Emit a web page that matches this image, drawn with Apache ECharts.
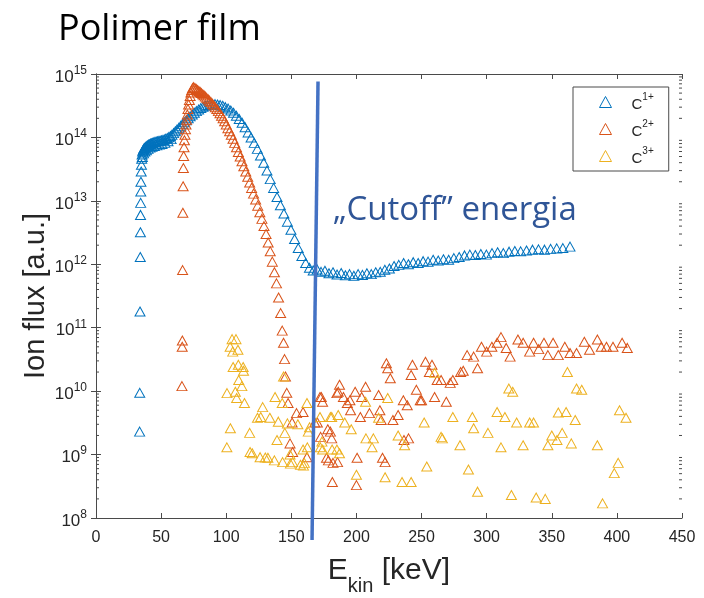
<!DOCTYPE html>
<html><head><meta charset="utf-8">
<script src="https://cdn.jsdelivr.net/npm/echarts@6/dist/echarts.min.js"></script>
<style>html,body{margin:0;padding:0;background:#fff}#c{width:704px;height:598px}</style>
</head><body><div id="c"></div>
<script>
// ---------- data ----------
const seriesNames = ['C1+', 'C2+', 'C3+'];
const xTickValues = [0, 50, 100, 150, 200, 250, 300, 350, 400, 450];
const yDecadeExponents = [8, 9, 10, 11, 12, 13, 14, 15];

// C1+ : [E_kin (keV), ion flux (a.u.)]
const c1Points = [
[33.5,2.3e9],[33.6,9.4e9],[33.8,1.8e11],[34.0,1.3e12],[34.1,3.2e12],[34.2,6.0e12],[34.3,9.3e12],[34.4,1.4e13],
[34.5,2.0e13],[34.7,2.9e13],[34.9,3.7e13],[35.1,4.6e13],[35.4,5.4e13],[35.8,6.0e13],[36.2,6.3e13],[36.7,6.6e13],
[37.2,6.8e13],[37.8,7.0e13],[38.4,7.2e13],[39.0,7.3e13],[39.7,7.5e13],[40.4,7.7e13],[41.1,7.8e13],[41.9,8.0e13],
[42.7,8.1e13],[43.5,8.2e13],[44.4,8.4e13],[45.3,8.5e13],[46.2,8.6e13],[47.2,8.7e13],[48.2,8.8e13],[49.2,8.9e13],
[50.2,9.0e13],[51.3,9.1e13],[52.4,9.3e13],[53.5,9.5e13],[54.7,9.8e13],[55.9,1.01e14],[57.1,1.05e14],[58.3,1.1e14],
[59.6,1.17e14],[60.9,1.25e14],[62.2,1.33e14],[63.6,1.42e14],[65.0,1.52e14],[66.4,1.62e14],[67.8,1.74e14],[69.3,1.87e14],
[70.8,2.0e14],[72.3,2.15e14],[73.9,2.3e14],[75.5,2.45e14],[77.1,2.6e14],[78.8,2.75e14],[80.5,2.9e14],[82.2,3.05e14],
[84.0,3.15e14],[85.8,3.25e14],[87.6,3.3e14],[89.5,3.35e14],[91.4,3.35e14],[93.3,3.3e14],[95.3,3.25e14],[97.3,3.15e14],
[99.3,3.0e14],[101.4,2.85e14],[103.5,2.65e14],[105.6,2.45e14],[107.8,2.2e14],[110.0,1.95e14],[112.2,1.7e14],[114.5,1.45e14],
[116.8,1.2e14],[119.1,1.0e14],[121.5,8.2e13],[123.9,6.6e13],[126.3,5.2e13],[128.8,4.0e13],[131.3,3.0e13],[133.8,2.2e13],
[136.4,1.6e13],[139.0,1.15e13],[141.6,8.5e12],[144.3,6.3e12],[147.0,4.7e12],[149.7,3.5e12],[152.5,2.5e12],[155.3,1.8e12],
[158.1,1.35e12],[161.0,1.05e12],[163.9,8.8e11],[166.8,8.0e11],[169.8,8.3e11],[172.8,7.6e11],[175.8,7.9e11],[178.9,7.2e11],
[182.0,7.5e11],[185.1,6.9e11],[188.3,7.3e11],[191.5,6.7e11],[194.7,7.0e11],[198.0,6.6e11],[201.3,7.0e11],[204.6,6.8e11],
[208.0,7.2e11],[211.4,7.0e11],[214.8,7.5e11],[218.3,7.6e11],[221.8,8.2e11],[225.3,8.6e11],[228.9,9.4e11],[232.5,9.8e11],
[236.2,1.05e12],[239.9,1.0e12],[243.6,1.08e12],[247.4,1.05e12],[251.2,1.12e12],[255.0,1.1e12],[258.9,1.18e12],[262.8,1.15e12],
[266.8,1.2e12],[270.8,1.18e12],[274.8,1.25e12],[278.9,1.3e12],[283.0,1.38e12],[287.1,1.42e12],[291.3,1.4e12],[295.5,1.45e12],
[299.8,1.42e12],[304.1,1.5e12],[308.4,1.55e12],[312.8,1.5e12],[317.2,1.58e12],[321.6,1.62e12],[326.1,1.6e12],[330.6,1.65e12],
[335.2,1.7e12],[339.8,1.72e12],[344.4,1.7e12],[349.1,1.75e12],[353.8,1.78e12],[358.5,1.8e12],[364.0,1.9e12],
[35.6,4.9e13],[36.5,5.6e13],[37.5,6.0e13],[38.7,6.3e13],[40.0,6.6e13],[41.5,6.9e13],[43.0,7.1e13],[44.8,7.3e13],
[46.7,7.5e13],[48.7,7.7e13],[50.7,7.9e13],[52.9,8.2e13],[55.3,8.7e13],[57.7,9.4e13]
];

// C2+
const c2Points = [
[66.0,1.2e10],[66.2,5.0e10],[66.3,6.3e10],[66.5,8.1e11],[66.7,6.5e12],[66.9,1.7e13],[67.1,3.3e13],[67.3,5.1e13],
[67.6,7.0e13],[67.9,9.0e13],[68.3,1.1e14],[68.7,1.35e14],[69.1,1.6e14],[69.6,1.9e14],[70.1,2.3e14],[70.6,2.8e14],
[71.1,3.3e14],[71.7,3.9e14],[72.3,4.5e14],[72.9,5.1e14],[73.5,5.6e14],[74.2,6.0e14],[75.0,6.2e14],[76.0,6.0e14],
[77.0,5.8e14],[78.0,5.6e14],[79.0,5.4e14],[80.0,5.2e14],[81.0,5.0e14],[82.0,4.8e14],[83.0,4.6e14],[84.0,4.4e14],
[85.0,4.2e14],[86.1,4.0e14],[87.2,3.8e14],[88.3,3.6e14],[89.4,3.4e14],[90.5,3.2e14],[91.6,3.0e14],[92.8,2.8e14],
[94.0,2.6e14],[95.2,2.4e14],[96.4,2.2e14],[97.6,2.0e14],[98.8,1.8e14],[100.0,1.6e14],[101.3,1.4e14],[102.6,1.25e14],
[103.9,1.1e14],[105.2,9.5e13],[106.5,8.2e13],[107.9,7.0e13],[109.3,5.9e13],[110.7,5.0e13],[112.1,4.2e13],[113.5,3.5e13],
[115.0,2.9e13],[116.5,2.4e13],[118.0,1.95e13],[119.5,1.6e13],[121.0,1.3e13],[122.6,1.05e13],[124.2,8.4e12],[125.8,6.6e12],
[127.4,5.2e12],[129.0,4.0e12],[130.6,3.0e12],[132.2,2.2e12],[133.8,1.6e12],[135.4,1.1e12],[137.0,7.5e11],[138.6,5.0e11],
[140.2,3.0e11],[141.8,1.7e11],[143.0,9.0e10],[144.0,5.8e10],[144.8,3.2e10],[145.5,1.7e10],[146.5,9.4e9],[147.5,6.5e9],
[149.0,1.5e9],[150.6,3.2e9],[151.0,1.1e9],[154.0,4.5e9],[159.0,4.7e9],[162.0,9.1e8],[168.0,3.2e9],[170.0,3.2e9],
[172.0,8.1e9],[172.5,1.9e9],[173.0,8.1e9],[174.0,6.8e9],[177.0,8.9e8],[178.0,2.5e9],[178.5,8.1e8],[180.0,2.3e9],
[181.0,1.8e9],[181.5,3.7e8],[182.0,7.4e8],[185.0,9.3e9],[185.5,7.6e8],[186.0,9.8e9],[187.0,1.26e10],[190.0,8.1e9],
[193.0,6.5e9],[195.0,7.2e9],[195.5,5.0e9],[199.0,9.8e9],[200.0,3.3e8],[200.5,8.9e8],[203.0,3.9e9],[204.0,8.1e9],
[207.0,1.17e10],[210.0,4.5e9],[217.0,8.7e9],[218.0,5.0e9],[219.0,3.5e9],[220.0,8.9e8],[222.0,7.6e8],[223.0,2.75e10],
[224.0,2.3e10],[226.0,1.6e10],[228.0,3.5e9],[232.0,4.2e9],[236.0,7.2e9],[236.5,1.7e9],[239.0,6.0e9],[240.0,1.8e9],
[242.0,1.8e10],[243.0,2.6e10],[246.0,1.05e10],[249.0,7.2e9],[250.0,7.2e9],[253.0,2.9e10],[256.0,2.0e10],[258.0,2.6e10],
[260.0,8.1e9],[262.0,1.5e10],[265.0,1.5e10],[269.0,6.8e9],[272.0,1.35e10],[274.0,1.5e10],[280.0,2.0e10],[282.0,2.1e10],
[285.0,3.7e10],[290.0,3.5e10],[293.0,2.3e10],[296.0,5.0e10],[300.0,4.2e10],[304.0,5.0e10],[308.0,5.8e10],[311.0,7.1e10],
[315.0,4.8e10],[318.0,3.5e10],[324.0,6.5e10],[328.0,5.8e10],[333.0,4.2e10],[336.0,5.8e10],[340.0,4.6e10],[344.0,5.8e10],
[347.0,3.7e10],[351.0,5.8e10],[355.0,3.7e10],[360.0,5.0e10],[364.0,4.0e10],[369.0,4.0e10],[375.0,6.0e10],[379.0,4.5e10],
[385.0,6.5e10],[388.0,5.0e10],[392.0,5.0e10],[397.0,5.0e10],[404.0,5.8e10],[408.0,4.8e10]
];

// C3+
const c3Points = [
[100.5,1.3e9],[100.6,9.3e9],[103.0,5.0e10],[103.2,2.6e9],[104.5,6.6e10],[105.0,4.2e10],[105.3,2.4e10],[107.0,9.8e9],
[107.5,6.6e10],[108.0,7.8e9],[109.0,4.5e10],[109.3,2.6e10],[109.6,1.5e10],[112.0,1.2e10],[113.0,2.4e10],[113.3,2.1e10],
[114.0,6.5e9],[118.0,2.2e9],[118.3,1.1e9],[120.0,1.05e9],[124.0,3.8e9],[126.0,9.1e8],[126.5,3.9e9],[128.0,5.6e9],
[130.0,9.0e8],[132.0,8.9e8],[133.5,3.8e9],[137.0,8.1e8],[137.5,8.1e9],[139.0,1.7e9],[140.0,3.3e9],[143.0,6.5e9],
[143.3,7.6e8],[144.0,1.7e10],[145.0,2.2e9],[147.0,3.1e9],[149.0,1.0e9],[149.3,7.2e8],[151.0,7.6e8],[155.0,3.0e9],
[157.0,6.9e8],[159.0,1.2e9],[159.3,6.7e8],[160.0,7.4e8],[162.0,6.5e9],[162.3,1.3e9],[163.0,2.3e9],[164.0,2.7e9],
[172.0,3.9e9],[172.3,1.3e9],[173.5,1.6e9],[174.0,1.2e9],[180.0,3.9e9],[181.0,3.9e9],[181.3,1.2e9],[185.0,1.2e9],
[186.0,4.2e9],[187.0,1.05e9],[191.0,3.2e9],[196.0,2.5e9],[200.0,4.8e8],[207.0,6.8e9],[207.3,1.8e9],[212.0,1.3e9],
[213.0,1.8e9],[217.0,3.8e9],[222.0,4.4e8],[224.0,7.8e9],[232.0,2.0e9],[235.0,3.7e8],[237.0,1.4e9],[242.0,3.7e8],
[252.0,3.2e9],[254.0,6.5e8],[260.0,1.95e10],[265.0,1.9e9],[266.0,1.8e9],[274.0,3.9e9],[279.5,1.4e9],[286.0,5.8e8],
[289.0,3.9e9],[290.0,2.6e9],[293.0,2.6e8],[301.0,2.2e9],[308.0,4.7e9],[311.0,1.3e9],[314.0,3.9e9],[317.0,1.1e10],
[319.0,2.3e8],[320.0,9.8e9],[323.0,3.2e9],[328.0,1.4e9],[333.0,3.2e9],[336.0,3.2e9],[338.0,2.1e8],[345.0,2.0e8],
[347.0,1.4e9],[350.0,2.0e9],[354.0,1.7e9],[355.0,4.6e9],[358.0,2.2e9],[361.0,4.7e9],[362.0,2.0e10],[365.0,1.5e9],
[368.0,3.5e9],[369.0,1.1e10],[373.0,1.05e10],[385.0,1.4e9],[389.0,1.7e8],[398.0,5.1e8],[401.0,7.4e8],[402.0,5.0e9],
[407.0,3.8e9]
];

// "Cutoff" annotation line end points [E_kin, flux]
const cutoffLine = [[170.5, 7.6e14], [165.9, 4.5e7]];
const cutoffText = '\u201ECutoff\u201D energia';

const colors = ['#0072BD', '#D95319', '#EDB120'];

// minor log ticks (axis decoration)
const minorTicks = [];
for (let e = 8; e < 15; e++) for (let k = 2; k <= 9; k++) minorTicks.push([0, k * Math.pow(10, e)]);

const axisColor = '#4a4a4a';
const chart = echarts.init(document.getElementById('c'), null, {renderer: 'canvas'});

function markerSeries(name, pts, color) {
  return {
    name: name, type: 'scatter', data: pts, symbol: 'triangle', symbolSize: [10, 9], symbolKeepAspect: true,
    itemStyle: {color: 'rgba(0,0,0,0)', borderColor: color, borderWidth: 1, opacity: 1},
    emphasis: {disabled: true}, silent: true, z: 3
  };
}

const yAxisBase = {
  type: 'log', logBase: 10, min: 1e8, max: 1e15,
  axisLine: {show: true, lineStyle: {color: axisColor, width: 1}},
  axisTick: {show: true, inside: true, length: 5, lineStyle: {color: axisColor, width: 1}},
  splitLine: {show: false}, minorTick: {show: false}
};
const xAxisBase = {
  type: 'value', min: xTickValues[0], max: xTickValues[xTickValues.length - 1], interval: 50,
  axisLine: {show: true, onZero: false, lineStyle: {color: axisColor, width: 1}},
  axisTick: {show: true, inside: true, length: 5, lineStyle: {color: axisColor, width: 1}},
  splitLine: {show: false}
};

chart.setOption({
  animation: false,
  backgroundColor: '#fff',
  grid: {left: 96, right: 22, top: 74, bottom: 80, containLabel: false},
  xAxis: [
    Object.assign({}, xAxisBase, {position: 'bottom',
      axisLabel: {fontSize: 16, color: '#262626', margin: 12, fontFamily: 'Liberation Sans'}}),
    Object.assign({}, xAxisBase, {position: 'top', axisLabel: {show: false}})
  ],
  yAxis: [
    Object.assign({}, yAxisBase, {position: 'left',
      axisLabel: {margin: 9, color: '#262626', fontFamily: 'Liberation Sans',
        formatter: v => '{b|10}{s|' + Math.round(Math.log10(v)) + '}',
        rich: {
          b: {fontSize: 17, fontFamily: 'Liberation Sans', color: '#262626', padding: [6, 0, 0, 0]},
          s: {fontSize: 12, fontFamily: 'Liberation Sans', color: '#262626', verticalAlign: 'top', padding: [2, 0, 0, 0]}
        }}}),
    Object.assign({}, yAxisBase, {position: 'right', axisLabel: {show: false}})
  ],
  legend: {
    data: seriesNames, orient: 'vertical', left: 573, top: 87,
    itemWidth: 12, itemHeight: 11, itemGap: 7, padding: [5, 15, 5, 26],
    borderColor: axisColor, borderWidth: 1, backgroundColor: '#fff', borderRadius: 0,
    selectedMode: false,
    itemStyle: {color: 'rgba(0,0,0,0)', borderWidth: 1},
    formatter: n => '{c|C}{s|' + n.slice(1) + '}',
    textStyle: {color: '#262626', fontFamily: 'Liberation Sans',
      rich: {
        c: {fontSize: 15, fontFamily: 'Liberation Sans', color: '#262626', padding: [5, 0, 0, 15]},
        s: {fontSize: 10, fontFamily: 'Liberation Sans', color: '#262626', verticalAlign: 'top'}
      }}
  },
  series: [
    {
      type: 'custom', coordinateSystem: 'cartesian2d', data: minorTicks, silent: true, z: 1,
      encode: {x: 0, y: 1},
      renderItem: function (params, api) {
        const v = api.value(1);
        const pL = api.coord([xTickValues[0], v]);
        const pR = api.coord([xTickValues[xTickValues.length - 1], v]);
        const st = {stroke: axisColor, lineWidth: 1};
        return {type: 'group', children: [
          {type: 'line', shape: {x1: pL[0], y1: pL[1], x2: pL[0] + 3, y2: pL[1]}, style: st},
          {type: 'line', shape: {x1: pR[0] - 3, y1: pR[1], x2: pR[0], y2: pR[1]}, style: st}
        ]};
      }
    },
    markerSeries(seriesNames[0], c1Points, colors[0]),
    markerSeries(seriesNames[1], c2Points, colors[1]),
    markerSeries(seriesNames[2], c3Points, colors[2]),
    {
      type: 'line', data: cutoffLine, clip: false, symbol: 'none', silent: true, z: 10,
      lineStyle: {color: '#4472C4', width: 3.5}
    }
  ],
  graphic: [
    {type: 'text', x: 58, y: 29.5, style: {text: 'Polimer film', font: '36px "Open Sans"', fill: '#000',
      align: 'left', verticalAlign: 'middle'}},
    {type: 'text', x: 333, y: 211, z: 20, style: {text: cutoffText, font: '33px "Open Sans"', fill: '#2F5597',
      align: 'left', verticalAlign: 'middle'}},
    {type: 'text', x: 389, y: 576, style: {
      text: '{b|E}{sub|kin}{b| [keV]}', align: 'center', verticalAlign: 'middle',
      rich: {
        b: {fontSize: 30, fontFamily: 'Liberation Sans', fill: '#262626', padding: [0, 0, 10, 0], verticalAlign: 'top'},
        sub: {fontSize: 20, fontFamily: 'Liberation Sans', fill: '#262626', verticalAlign: 'bottom'}
      }}},
    {type: 'text', x: 36, y: 296, rotation: Math.PI / 2, style: {
      text: 'Ion flux [a.u.]', font: '29px "Liberation Sans"', fill: '#262626', align: 'center', verticalAlign: 'middle'}}
  ]
});
</script>
</body></html>
